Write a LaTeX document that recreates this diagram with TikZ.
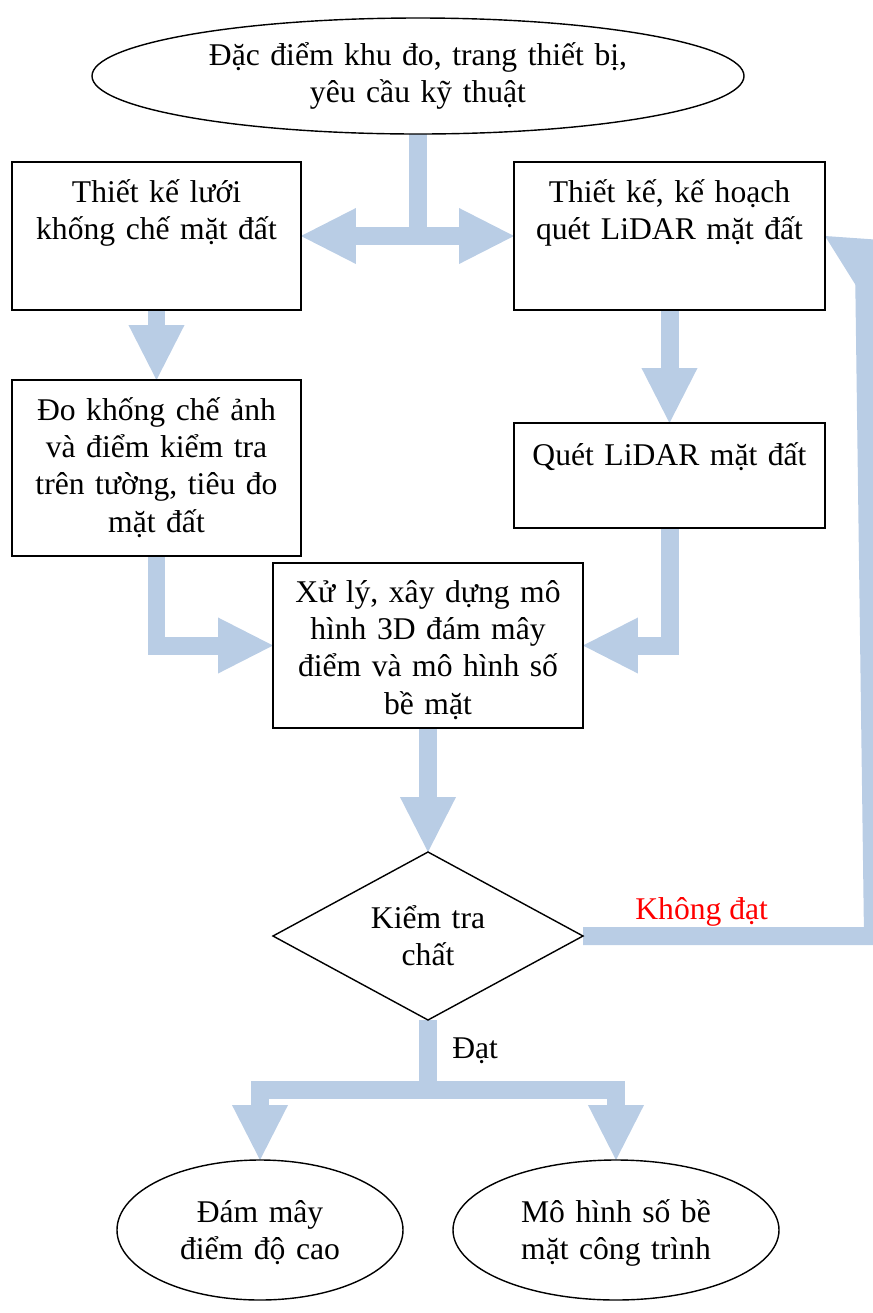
\documentclass[tikz,border=0pt]{standalone}
\usepackage{fontspec}
\setmainfont{Liberation Serif}
\usetikzlibrary{arrows.meta,shapes.geometric,calc}
\definecolor{flowblue}{RGB}{185,205,229}
\definecolor{failred}{RGB}{255,0,0}
\pgfdeclarelayer{background}
\pgfsetlayers{background,main}
% one drawing unit = 0.02cm
\def\pxu{0.02cm}
\tikzset{
  x=0.02cm, y=-0.02cm,
  frame/.style={draw=black, line width=0.8pt, inner sep=0pt, outer sep=0pt},
  stepbox/.style={frame, rectangle},
  oval/.style={frame, ellipse},
  decision/.style={frame, diamond},
  txt/.style={inner sep=0pt, align=center, text width=#1, anchor=base,
    font=\fontsize{18pt}{21.3pt}\selectfont},
  txt/.default=6cm,
  lbl/.style={inner sep=0pt, font=\fontsize{18pt}{21.3pt}\selectfont},
  bigtip/.tip={Triangle[width=31.9pt,length=31.3pt,line width=0pt]},
  shaft/.style={draw=flowblue, line width=10.24pt},
  flow/.style={shaft, -bigtip},
  flowboth/.style={shaft, bigtip-bigtip},
}
\begin{document}
\begin{tikzpicture}
\useasboundingbox (0,0) rectangle (873,1313);

% input conditions
\node[oval, minimum width=652*\pxu, minimum height=116*\pxu] (src) at (418,76) {};
\node[txt=12cm] (srct) at (418,65) {Đặc điểm khu đo, trang thiết bị,\\yêu cầu kỹ thuật};

% planning steps
\node[stepbox, minimum width=289*\pxu, minimum height=148*\pxu] (grid) at (156.5,236) {};
\node[txt] (gridt) at (156.5,202) {Thiết kế lưới\\khống chế mặt đất};
\node[stepbox, minimum width=311*\pxu, minimum height=148*\pxu] (plan) at (669.5,236) {};
\node[txt] (plant) at (669.5,202) {Thiết kế, kế hoạch\\quét LiDAR mặt đất};

% field work
\node[stepbox, minimum width=289*\pxu, minimum height=176*\pxu] (gcp) at (156.5,468) {};
\node[txt] (gcpt) at (156.5,420) {Đo khống chế ảnh\\và điểm kiểm tra\\trên tường, tiêu đo\\mặt đất};
\node[stepbox, minimum width=311*\pxu, minimum height=105*\pxu] (scan) at (669.5,475.5) {};
\node[txt] (scant) at (669.5,465) {Quét LiDAR mặt đất};

% processing
\node[stepbox, minimum width=310*\pxu, minimum height=165*\pxu] (proc) at (428,645.5) {};
\node[txt] (proct) at (428,602) {Xử lý, xây dựng mô\\hình 3D đám mây\\điểm và mô hình số\\bề mặt};

% quality check
\node[decision, minimum width=310*\pxu, minimum height=168*\pxu] (check) at (428,936) {};
\node[txt] (checkt) at (428,928) {Kiểm tra\\chất};

% products
\node[oval, minimum width=286*\pxu, minimum height=140*\pxu] (cloud) at (260,1230) {};
\node[txt] (cloudt) at (260,1222) {Đám mây\\điểm độ cao};
\node[oval, minimum width=326*\pxu, minimum height=140*\pxu] (dsm) at (616,1230) {};
\node[txt] (dsmt) at (616,1222) {Mô hình số bề\\mặt công trình};

% branch labels
\node[lbl, anchor=base west] (pass) at (452,1058) {Đạt};
\node[lbl, anchor=base west, text=failred] (fail) at (635,919) {Không đạt};

% helper points
\coordinate (split) at (428,1090);
\coordinate (fbcorner) at (873,936);
\coordinate (fbtop) at (864,262);
\coordinate (fbhead) at ($(plan.east)+(51.4,30.9)$);

% block arrows
\begin{pgfonlayer}{background}
  \draw[shaft] (src.south) -- (src.south |- grid.east);
  \draw[flowboth] (grid.east) -- (plan.west);
  \draw[flow] (grid.south) -- (gcp.north);
  \draw[flow] (plan.south) -- (scan.north);
  \draw[flow] (gcp.south) |- (proc.west);
  \draw[flow] (scan.south) |- (proc.east);
  \draw[flow] (proc.south) -- (check.north);
  \draw[shaft] (check.south) -- (split);
  \draw[flow] (split) -| (cloud.north);
  \draw[flow] (split) -| (dsm.north);
  \draw[shaft] (check.east) -- (fbcorner) -- (fbtop);
  \draw[flow] (fbhead) -- (plan.east);
\end{pgfonlayer}
\end{tikzpicture}
\end{document}
